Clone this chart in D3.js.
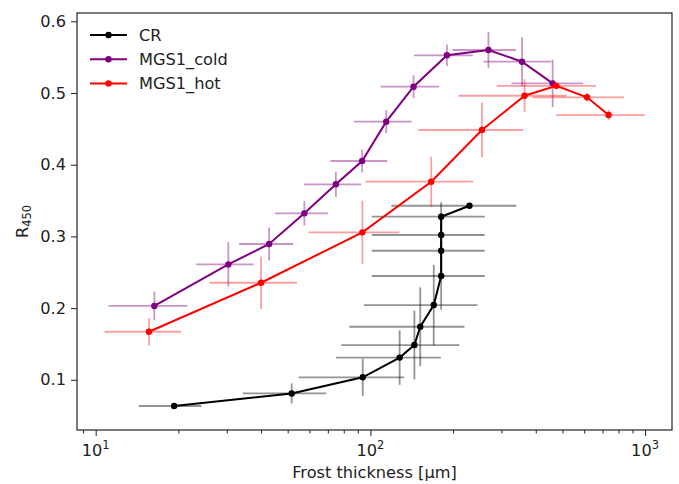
<!DOCTYPE html>
<html>
<head>
<meta charset="utf-8">
<script src="https://cdn.jsdelivr.net/npm/d3@7"></script>
<style>
  body { margin: 0; background: #fff; }
  svg { display: block; font-family: 'DejaVu Sans', sans-serif; }
</style>
</head>
<body>
<svg width="679" height="484"></svg>
<script>
const w = 679;
const h = 484;
const padLeft = 77, padRight = 672, padTop = 13, padBottom = 430;
const fs = 16.2;

// CR
const crX = [19.3, 51.7, 93.8, 127.8, 144.6, 151.9, 170.1, 181, 181, 181, 181, 229.4];
const crY = [0.0635, 0.081, 0.1035, 0.131, 0.1485, 0.174, 0.2043, 0.2448, 0.280, 0.302, 0.3275, 0.3428];
const crXErr = [4.95, 17.4, 39, 52.8, 66.3, 68.1, 75.4, 79.8, 79.8, 79.8, 79.8, 110.3];
const crYErr = [0.003, 0.014, 0.026, 0.038, 0.048, 0.055, 0.056, 0.047, 0.03, 0.03, 0.02, 0.003];

// MGS1_cold
const coldX = [16.35, 30.4, 42.8, 57.5, 74.9, 93.3, 114.2, 143.6, 190, 269, 356.5, 460.8];
const coldY = [0.203, 0.261, 0.2894, 0.3322, 0.3727, 0.4052, 0.46, 0.5088, 0.5526, 0.56, 0.5437, 0.5135];
const coldXErr = [5.2, 7.15, 9.55, 12.55, 17.6, 21.75, 27, 34.6, 46, 69.9, 98.8, 134.7];
const coldYErr = [0.020, 0.031, 0.023, 0.017, 0.0175, 0.016, 0.016, 0.016, 0.015, 0.025, 0.034, 0.033];

// MGS1_hot
const hotX = [15.63, 40.0, 93.5, 166.5, 254.7, 364.2, 475.3, 614.9, 736.4];
const hotY = [0.167, 0.2354, 0.3057, 0.3763, 0.4484, 0.4962, 0.510, 0.494, 0.4693];
const hotXErr = [4.85, 14, 34, 70.6, 105, 155, 187, 225, 261];
const hotYErr = [0.019, 0.0365, 0.044, 0.035, 0.038, 0.023, 0.005, 0.006, 0.007];

const yTicks = [0.1, 0.2, 0.3, 0.4, 0.5, 0.6];
const xMajor = [10, 100, 1000];
const xMajorExp = ['1', '2', '3'];
const xMinor = [9, 20, 30, 40, 50, 60, 70, 80, 90, 200, 300, 400, 500, 600, 700, 800, 900];

const series = [
  { name: 'CR', x: crX, y: crY, xe: crXErr, ye: crYErr, color: '#000000', bar: 'rgba(0,0,0,0.42)' },
  { name: 'MGS1_cold', x: coldX, y: coldY, xe: coldXErr, ye: coldYErr, color: '#800080', bar: 'rgba(128,0,128,0.42)' },
  { name: 'MGS1_hot', x: hotX, y: hotY, xe: hotXErr, ye: hotYErr, color: '#ff0000', bar: 'rgba(255,0,0,0.38)' }
];

let canvas = d3.select('svg');

const x = d3.scaleLog().domain([8.551, 1253]).range([padLeft, padRight]);
const y = d3.scaleLinear().domain([0.030, 0.6116]).range([padBottom, padTop]);

// axes
let yAxis = canvas.append('g')
  .attr('transform', `translate(${padLeft},0)`)
  .call(d3.axisLeft(y).tickValues(yTicks).tickFormat(d3.format('.1f')).tickSize(6).tickPadding(5));

let xAxis = canvas.append('g')
  .attr('transform', `translate(0,${padBottom})`)
  .call(d3.axisBottom(x).tickValues(xMajor).tickFormat('').tickSize(6));

canvas.append('g')
  .attr('transform', `translate(0,${padBottom})`)
  .call(d3.axisBottom(x).tickValues(xMinor).tickFormat('').tickSize(3.5))
  .call(g => g.select('.domain').remove());

[yAxis, xAxis].forEach(g => {
  g.select('.domain').remove();
  g.selectAll('.tick text').attr('fill', '#222').attr('font-size', fs).attr('font-family', 'DejaVu Sans');
});
canvas.selectAll('.tick line').attr('stroke', '#222').attr('stroke-width', 1);

// x tick labels with exponent
xMajor.forEach((v, i) => {
  let t = canvas.append('text')
    .attr('x', x(v))
    .attr('y', padBottom + 25.5)
    .attr('text-anchor', 'middle')
    .attr('font-size', fs)
    .attr('fill', '#222');
  t.append('tspan').text('10');
  t.append('tspan').attr('font-size', 11.5).attr('dy', -7).text(xMajorExp[i]);
});

// error bars and lines
series.forEach(s => {
  let pts = s.x.map((d, i) => ({ x: d, y: s.y[i], xe: s.xe[i], ye: s.ye[i] }));
  let g = canvas.append('g');
  g.selectAll('.xe')
    .data(pts)
    .enter()
    .append('line')
    .attr('x1', d => x(d.x - d.xe))
    .attr('x2', d => x(d.x + d.xe))
    .attr('y1', d => y(d.y))
    .attr('y2', d => y(d.y))
    .attr('stroke', s.bar)
    .attr('stroke-width', 1.8);
  g.selectAll('.ye')
    .data(pts)
    .enter()
    .append('line')
    .attr('x1', d => x(d.x))
    .attr('x2', d => x(d.x))
    .attr('y1', d => y(d.y - d.ye))
    .attr('y2', d => y(d.y + d.ye))
    .attr('stroke', s.bar)
    .attr('stroke-width', 1.8);
  g.append('path')
    .datum(pts)
    .attr('fill', 'none')
    .attr('stroke', s.color)
    .attr('stroke-width', 2)
    .attr('d', d3.line().x(d => x(d.x)).y(d => y(d.y)));
  g.selectAll('circle')
    .data(pts)
    .enter()
    .append('circle')
    .attr('cx', d => x(d.x))
    .attr('cy', d => y(d.y))
    .attr('r', 3.2)
    .attr('fill', s.color);
});

// frame
canvas.append('rect')
  .attr('x', padLeft)
  .attr('y', padTop)
  .attr('width', padRight - padLeft)
  .attr('height', padBottom - padTop)
  .attr('fill', 'none')
  .attr('stroke', '#222')
  .attr('stroke-width', 1.2);

// legend
series.forEach((s, i) => {
  let ly = 35 + i * 24.2;
  canvas.append('line')
    .attr('x1', 90).attr('x2', 127)
    .attr('y1', ly).attr('y2', ly)
    .attr('stroke', s.color).attr('stroke-width', 2);
  canvas.append('circle')
    .attr('cx', 108.5).attr('cy', ly).attr('r', 3.2).attr('fill', s.color);
  canvas.append('text')
    .attr('x', 139).attr('y', ly)
    .attr('dy', '0.36em')
    .attr('font-size', fs)
    .attr('fill', '#222')
    .text(s.name);
});

// axis labels
canvas.append('text')
  .attr('x', (padLeft + padRight) / 2)
  .attr('y', 478)
  .attr('text-anchor', 'middle')
  .attr('font-size', fs)
  .attr('fill', '#222')
  .text('Frost thickness [µm]');

let yl = canvas.append('text')
  .attr('transform', `translate(28,${(padTop + padBottom) / 2}) rotate(-90)`)
  .attr('text-anchor', 'middle')
  .attr('font-size', fs)
  .attr('fill', '#222');
yl.append('tspan').text('R');
yl.append('tspan').attr('font-size', 11.5).attr('dy', 3).text('450');
</script>
</body>
</html>
